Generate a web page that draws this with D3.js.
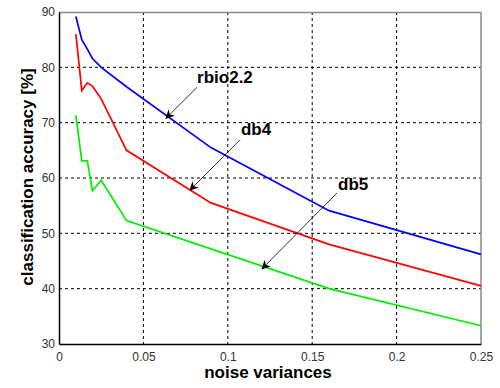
<!DOCTYPE html>
<html>
<head>
<meta charset="utf-8">
<script src="https://cdn.jsdelivr.net/npm/d3@7"></script>
<style>
body { margin: 0; background: #fff; }
</style>
</head>
<body>
<div id="chart-area"></div>
<script>
// noise variance samples (shared by all curves)
var variances = [0.01, 0.0135, 0.0168, 0.0198, 0.025, 0.04, 0.09, 0.16, 0.25];
var rbio22 = [89.2, 85.0, 83.3, 81.6, 80.0, 76.5, 65.5, 54.1, 46.2];
var db4 = [86.0, 75.8, 77.2, 76.6, 74.3, 65.0, 55.5, 48.0, 40.5];
var db5 = [71.3, 63.1, 63.1, 57.7, 59.6, 52.3, 47.2, 40.0, 33.3];

var xTicks = [0, 0.05, 0.1, 0.15, 0.2, 0.25];
var yTicks = [30, 40, 50, 60, 70, 80, 90];

// annotation: label position, arrow start, arrow tip (data units)
var notes = [
  {label: "rbio2.2", tx: 0.0818, ty: 77.2, x1: 0.0818, y1: 76.4, x2: 0.0634, y2: 70.8},
  {label: "db4", tx: 0.1078, ty: 67.8, x1: 0.1072, y1: 66.9, x2: 0.0776, y2: 57.8},
  {label: "db5", tx: 0.1653, ty: 57.8, x1: 0.1647, y1: 57.3, x2: 0.1203, y2: 43.6}
];

var width = 422;
var height = 332;
var margin = {top: 12, right: 19, bottom: 44, left: 59};

var svg = d3.select("#chart-area").append("svg")
  .attr("width", width + margin.left + margin.right)
  .attr("height", height + margin.top + margin.bottom)

var g = svg.append("g")
  .attr("transform", "translate(" + margin.left + ", " + margin.top + ")")

var x = d3.scaleLinear().domain([0, 0.25]).range([0, width])
var y = d3.scaleLinear().domain([30, 90]).range([height, 0])

// grid
g.append("g").selectAll("line").data(xTicks.slice(1, -1)).enter().append("line")
  .attr("x1", d => x(d)).attr("x2", d => x(d))
  .attr("y1", 0).attr("y2", height)
  .attr("stroke", "#000").attr("stroke-width", 1).attr("stroke-dasharray", "3,3")

g.append("g").selectAll("line").data(yTicks.slice(1, -1)).enter().append("line")
  .attr("x1", 0).attr("x2", width)
  .attr("y1", d => y(d)).attr("y2", d => y(d))
  .attr("stroke", "#000").attr("stroke-width", 1).attr("stroke-dasharray", "3,3")

// frame: top/right grey
g.append("line").attr("x1", 0).attr("x2", width).attr("y1", 0.5).attr("y2", 0.5)
  .attr("stroke", "#888").attr("stroke-width", 1.5)
g.append("line").attr("x1", width).attr("x2", width).attr("y1", 0).attr("y2", height)
  .attr("stroke", "#888").attr("stroke-width", 1.5)

// axes
var xAxisCall = d3.axisBottom(x).tickValues(xTicks).tickSize(0).tickPadding(8)
  .tickFormat(d => d3.format("")(+d.toFixed(2)))
var yAxisCall = d3.axisLeft(y).tickValues(yTicks).tickSize(0).tickPadding(4)

var xa = g.append("g")
  .attr("class", "x axis")
  .attr("transform", "translate(0, " + height + ")")
  .call(xAxisCall)
var ya = g.append("g")
  .attr("class", "y axis")
  .call(yAxisCall)

svg.selectAll(".axis path").attr("stroke", "#000").attr("stroke-width", 1.5)
svg.selectAll(".axis text")
  .attr("font-family", "Liberation Sans, Arial, sans-serif")
  .attr("font-size", "12px")
  .attr("fill", "#333")

// lines
var series = [
  {values: rbio22, color: "#0000ff"},
  {values: db4, color: "#ff0000"},
  {values: db5, color: "#00ee00"}
];

var line = d3.line()
  .x((d, i) => x(variances[i]))
  .y(d => y(d))

g.selectAll(".series").data(series).enter().append("path")
  .attr("class", "series")
  .attr("d", d => line(d.values))
  .attr("fill", "none")
  .attr("stroke", d => d.color)
  .attr("stroke-width", 1.7)

// annotations
svg.append("defs").append("marker")
  .attr("id", "arrow")
  .attr("viewBox", "0 0 10 10")
  .attr("refX", 9).attr("refY", 5)
  .attr("markerWidth", 9).attr("markerHeight", 9)
  .attr("markerUnits", "userSpaceOnUse")
  .attr("orient", "auto")
  .append("path")
  .attr("d", "M0,0 L10,5 L0,10 L3,5 Z")
  .attr("fill", "#000")

g.selectAll(".note-line").data(notes).enter().append("line")
  .attr("class", "note-line")
  .attr("x1", d => x(d.x1)).attr("y1", d => y(d.y1))
  .attr("x2", d => x(d.x2)).attr("y2", d => y(d.y2))
  .attr("stroke", "#000").attr("stroke-width", 0.8)
  .attr("marker-end", "url(#arrow)")

g.selectAll(".note-text").data(notes).enter().append("text")
  .attr("class", "note-text")
  .attr("x", d => x(d.tx)).attr("y", d => y(d.ty))
  .attr("font-family", "Liberation Sans, Arial, sans-serif")
  .attr("font-weight", "bold")
  .attr("font-size", "17px")
  .attr("fill", "#000")
  .text(d => d.label)

// X Label
g.append("text")
  .attr("x", width / 2 - 2)
  .attr("y", height + 34)
  .attr("font-family", "Liberation Sans, Arial, sans-serif")
  .attr("font-weight", "bold")
  .attr("font-size", "17px")
  .attr("text-anchor", "middle")
  .style("fill", "black")
  .text("noise variances")

// Y Label
g.append("text")
  .attr("x", -(height / 2) + 1)
  .attr("y", -26)
  .attr("font-family", "Liberation Sans, Arial, sans-serif")
  .attr("font-weight", "bold")
  .attr("font-size", "17px")
  .attr("text-anchor", "middle")
  .attr("transform", "rotate(-90)")
  .style("fill", "black")
  .text("classification accuracy [%]")
</script>
</body>
</html>
